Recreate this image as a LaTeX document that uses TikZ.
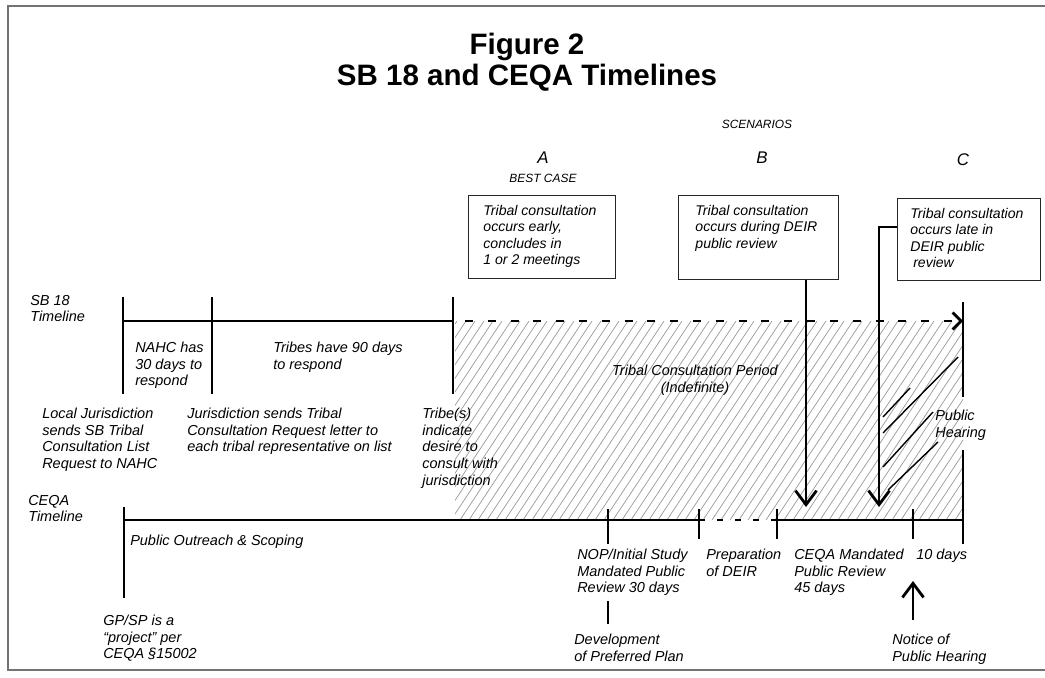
\documentclass[tikz,border=0pt]{standalone}
\usepackage{fontspec}
\setmainfont{Liberation Sans}
\usetikzlibrary{arrows.meta}
\tikzset{
  lbl/.style={anchor=north west, inner sep=0pt, align=left, font=\fontsize{10.3}{11.8}\selectfont\itshape},
  scenbox/.style={draw=black!85, line width=0.6pt, anchor=north west, inner ysep=0.25cm, font=\fontsize{10}{11.6}\selectfont\itshape},
  tline/.style={line width=2pt},
  cline/.style={line width=1.5pt},
  tick/.style={line width=2pt},
  conn/.style={line width=2pt, -{Straight Barb[length=10pt,width=15pt]}},
  hatchln/.style={black!40, line width=0.5pt},
  hearln/.style={line width=1pt},
}
\begin{document}
\begin{tikzpicture}[x=0.025cm, y=-0.025cm]
  \useasboundingbox (0,0) rectangle (1045,677);
  % Frame
  \draw[black!55, line width=0.8pt] (1045,6) -- (8,6) -- (8,670) -- (1045,670);
  % Title
  \node[font=\fontsize{21}{22}\selectfont\bfseries, align=center] (title) at (527,62) {Figure 2\\SB 18 and CEQA Timelines};
  % Scenario heads
  \node[font=\fontsize{8.5}{10}\selectfont\itshape] (scen) at (757,124) {SCENARIOS};
  \node[font=\fontsize{12}{14}\selectfont\itshape] (scA) at (543,158) {A};
  \node[font=\fontsize{8.5}{10}\selectfont\itshape] (best) at (543,178) {BEST CASE};
  \node[font=\fontsize{12}{14}\selectfont\itshape] (scB) at (762,158) {B};
  \node[font=\fontsize{12}{14}\selectfont\itshape] (scC) at (963,160) {C};
  % Scenario boxes
  \node[scenbox, inner xsep=0.375cm] (boxA) at (468,195) {\parbox[t][1.575cm][t]{2.925cm}{Tribal consultation\\occurs early,\\concludes in\\1 or 2 meetings}};
  \node[scenbox, inner xsep=0.425cm] (boxB) at (678,195) {\parbox[t][1.6cm][t]{3.15cm}{Tribal consultation\\occurs during DEIR\\public review}};
  \node[scenbox, inner xsep=0.325cm] (boxC) at (897,198) {\parbox[t][1.55cm][t]{2.925cm}{Tribal consultation\\occurs late in\\DEIR public\\\hspace*{2pt}review}};
  % Hatched consultation period
  \begin{scope}
    \clip (455,321) rectangle (963,520);
    \foreach \hx in {316,325,...,970} \draw[hatchln] (\hx,520) -- ++(132,-199);
  \end{scope}
  \draw[hearln] (883,417) -- (910,388);
  \draw[hearln] (883,433) -- (958,357);
  \draw[hearln] (883,467) -- (933,412);
  \draw[hearln] (888,490) -- (938,442);
  % SB 18 timeline
  \coordinate (sbStart) at (123,321);
  \coordinate (sbNahc) at (212,321);
  \coordinate (sbTribe) at (453,321);
  \coordinate (sbEnd) at (963,321);
  \draw[tline] (sbStart) -- (sbTribe);
  \foreach \t in {sbStart,sbNahc,sbTribe} \draw[tick] (\t) ++(0,-24) -- ++(0,97);
  \draw[tline, dash pattern=on 0.2cm off 0.37cm, -{Straight Barb[length=6pt,width=12pt]}] ([xshift=0.3cm]sbTribe) -- (sbEnd);
  \draw[tick] (963,302) -- (963,397);
  \draw[tick] (963,450) -- (963,544);
  % CEQA timeline
  \coordinate (cqStart) at (124,520);
  \coordinate (cqNop) at (608,520);
  \coordinate (cqPrepA) at (699,520);
  \coordinate (cqPrepB) at (777,520);
  \coordinate (cqTen) at (913,520);
  \coordinate (cqEnd) at (963,520);
  \draw[cline] (cqStart) -- (cqPrepA);
  \draw[cline, dash pattern=on 0.15cm off 0.3cm] (cqPrepA) -- (cqPrepB);
  \draw[cline] (cqPrepB) -- (cqEnd);
  \draw[tick] (cqStart) ++(0,-13) -- ++(0,91);
  \draw[tick] (cqNop) ++(0,-11) -- ++(0,35);
  \foreach \t in {cqPrepA,cqPrepB,cqTen} \draw[tick] (\t) ++(0,-11) -- ++(0,30);
  \draw[tick] (608,601) -- (608,624);
  % Scenario arrows
  \coordinate (bTip) at (806,507);
  \coordinate (cBend) at (879,227);
  \coordinate (cTip) at (879,507);
  \draw[conn] (boxB.south -| bTip) -- (bTip);
  \draw[conn] (boxC.west |- cBend) -- (cBend) -- (cTip);
  \coordinate (noticeTail) at (913,620);
  \coordinate (noticeTip) at (913,581);
  \draw[conn] (noticeTail) -- (noticeTip);
  % SB 18 labels
  \node[lbl] (sbLbl) at (30,295) {SB 18\\Timeline};
  \node[lbl] (nahc) at (135,342) {NAHC has\\30 days to\\respond};
  \node[lbl] (tribes90) at (273,342) {Tribes have 90 days\\to respond};
  \node[lbl] (localJ) at (42,408) {Local Jurisdiction\\sends SB Tribal\\Consultation List\\Request to NAHC};
  \node[lbl] (jurSends) at (187,408) {Jurisdiction sends Tribal\\Consultation Request letter to\\each tribal representative on list};
  \node[lbl] (tribeInd) at (422,408) {Tribe(s)\\indicate\\desire to\\consult with\\jurisdiction};
  \node[lbl, anchor=north, align=center] (period) at (695,365) {Tribal Consultation Period\\(Indefinite)};
  \node[lbl] (hearing) at (935,410) {Public\\Hearing};
  % CEQA labels
  \node[lbl] (cqLbl) at (28,495) {CEQA\\Timeline};
  \node[lbl] (outreach) at (130,535) {Public Outreach \& Scoping};
  \node[lbl] (gpsp) at (103,615) {GP/SP is a\\``project'' per\\CEQA \S15002};
  \node[lbl] (nop) at (577,549) {NOP/Initial Study\\Mandated Public\\Review 30 days};
  \node[lbl] (develop) at (574,634) {Development\\of Preferred Plan};
  \node[lbl] (prep) at (706,549) {Preparation\\of DEIR};
  \node[lbl] (mandated) at (794,549) {CEQA Mandated\\Public Review\\45 days};
  \node[lbl] (tenDays) at (916,549) {10 days};
  \node[lbl] (notice) at (892,634) {Notice of\\Public Hearing};
\end{tikzpicture}
\end{document}
